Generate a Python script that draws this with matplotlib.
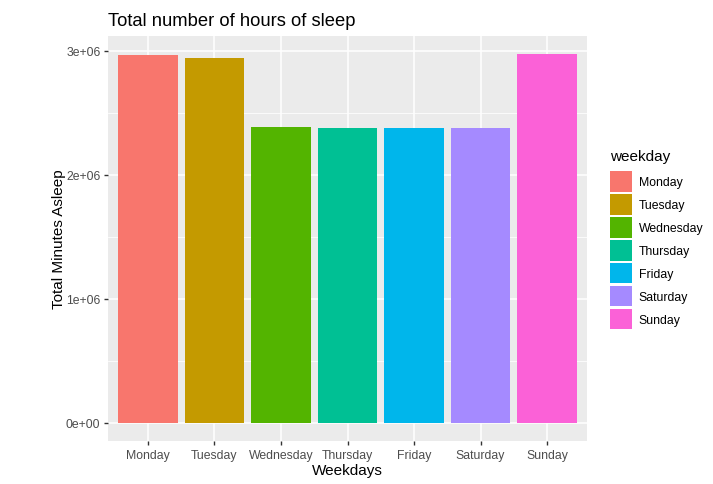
import matplotlib.pyplot as plt
from matplotlib.patches import Patch

plt.rcParams["font.family"] = ["Liberation Sans", "DejaVu Sans"]

weekdays = ["Monday", "Tuesday", "Wednesday", "Thursday", "Friday", "Saturday", "Sunday"]
minutes_asleep = [2965000, 2944000, 2387000, 2378000, 2379000, 2379000, 2971000]
colors = ["#F8766D", "#C49A00", "#53B400", "#00C094", "#00B6EB", "#A58AFF", "#FB61D7"]
y_ticks = [0, 1000000, 2000000, 3000000]
y_labels = ["0e+00", "1e+06", "2e+06", "3e+06"]

W, H = 713, 485
fig = plt.figure(figsize=(W / 100, H / 100), dpi=100)
ax = fig.add_axes([108 / W, (H - 442) / H, (587 - 108) / W, (442 - 37) / H])

ax.set_facecolor("#EBEBEB")
x = list(range(len(weekdays)))
ymax = max(minutes_asleep)
ax.set_xlim(-0.6, len(weekdays) - 1 + 0.6)
ax.set_ylim(-0.05 * ymax, ymax * 1.05)

# grid: major + minor
for yv in y_ticks:
    ax.axhline(yv, color="white", lw=1.1, zorder=0)
for i in range(len(y_ticks) - 1):
    ax.axhline((y_ticks[i] + y_ticks[i + 1]) / 2, color="white", lw=0.55, zorder=0)
for xv in x:
    ax.axvline(xv, color="white", lw=1.1, zorder=0)

ax.bar(x, minutes_asleep, width=0.9, color=colors, zorder=2)

for s in ax.spines.values():
    s.set_visible(False)

ax.set_xticks(x)
ax.set_xticklabels(weekdays)
ax.set_yticks(y_ticks)
ax.set_yticklabels(y_labels)
ax.tick_params(axis="both", colors="#333333", length=3, width=1.0, labelsize=8.8,
               labelcolor="#4D4D4D", pad=2.5)

ax.set_xlabel("Weekdays", fontsize=11, color="black", labelpad=2)
ax.set_ylabel("Total Minutes Asleep", fontsize=11, color="black", labelpad=0)
ax.set_title("Total number of hours of sleep", fontsize=13.2, loc="left", color="black", pad=8)

handles = [Patch(facecolor=c, edgecolor="none") for c in colors]
leg = fig.legend(handles, weekdays, title="weekday", loc="upper left",
                 bbox_to_anchor=(610 / W, (H - 150) / H), frameon=False,
                 fontsize=8.8, title_fontsize=11, handlelength=1.8, handleheight=2.2,
                 labelspacing=0.2, handletextpad=0.55, borderpad=0, borderaxespad=0)
leg._legend_box.align = "left"
leg._legend_box.sep = 6

fig.savefig("out.png", dpi=100)
